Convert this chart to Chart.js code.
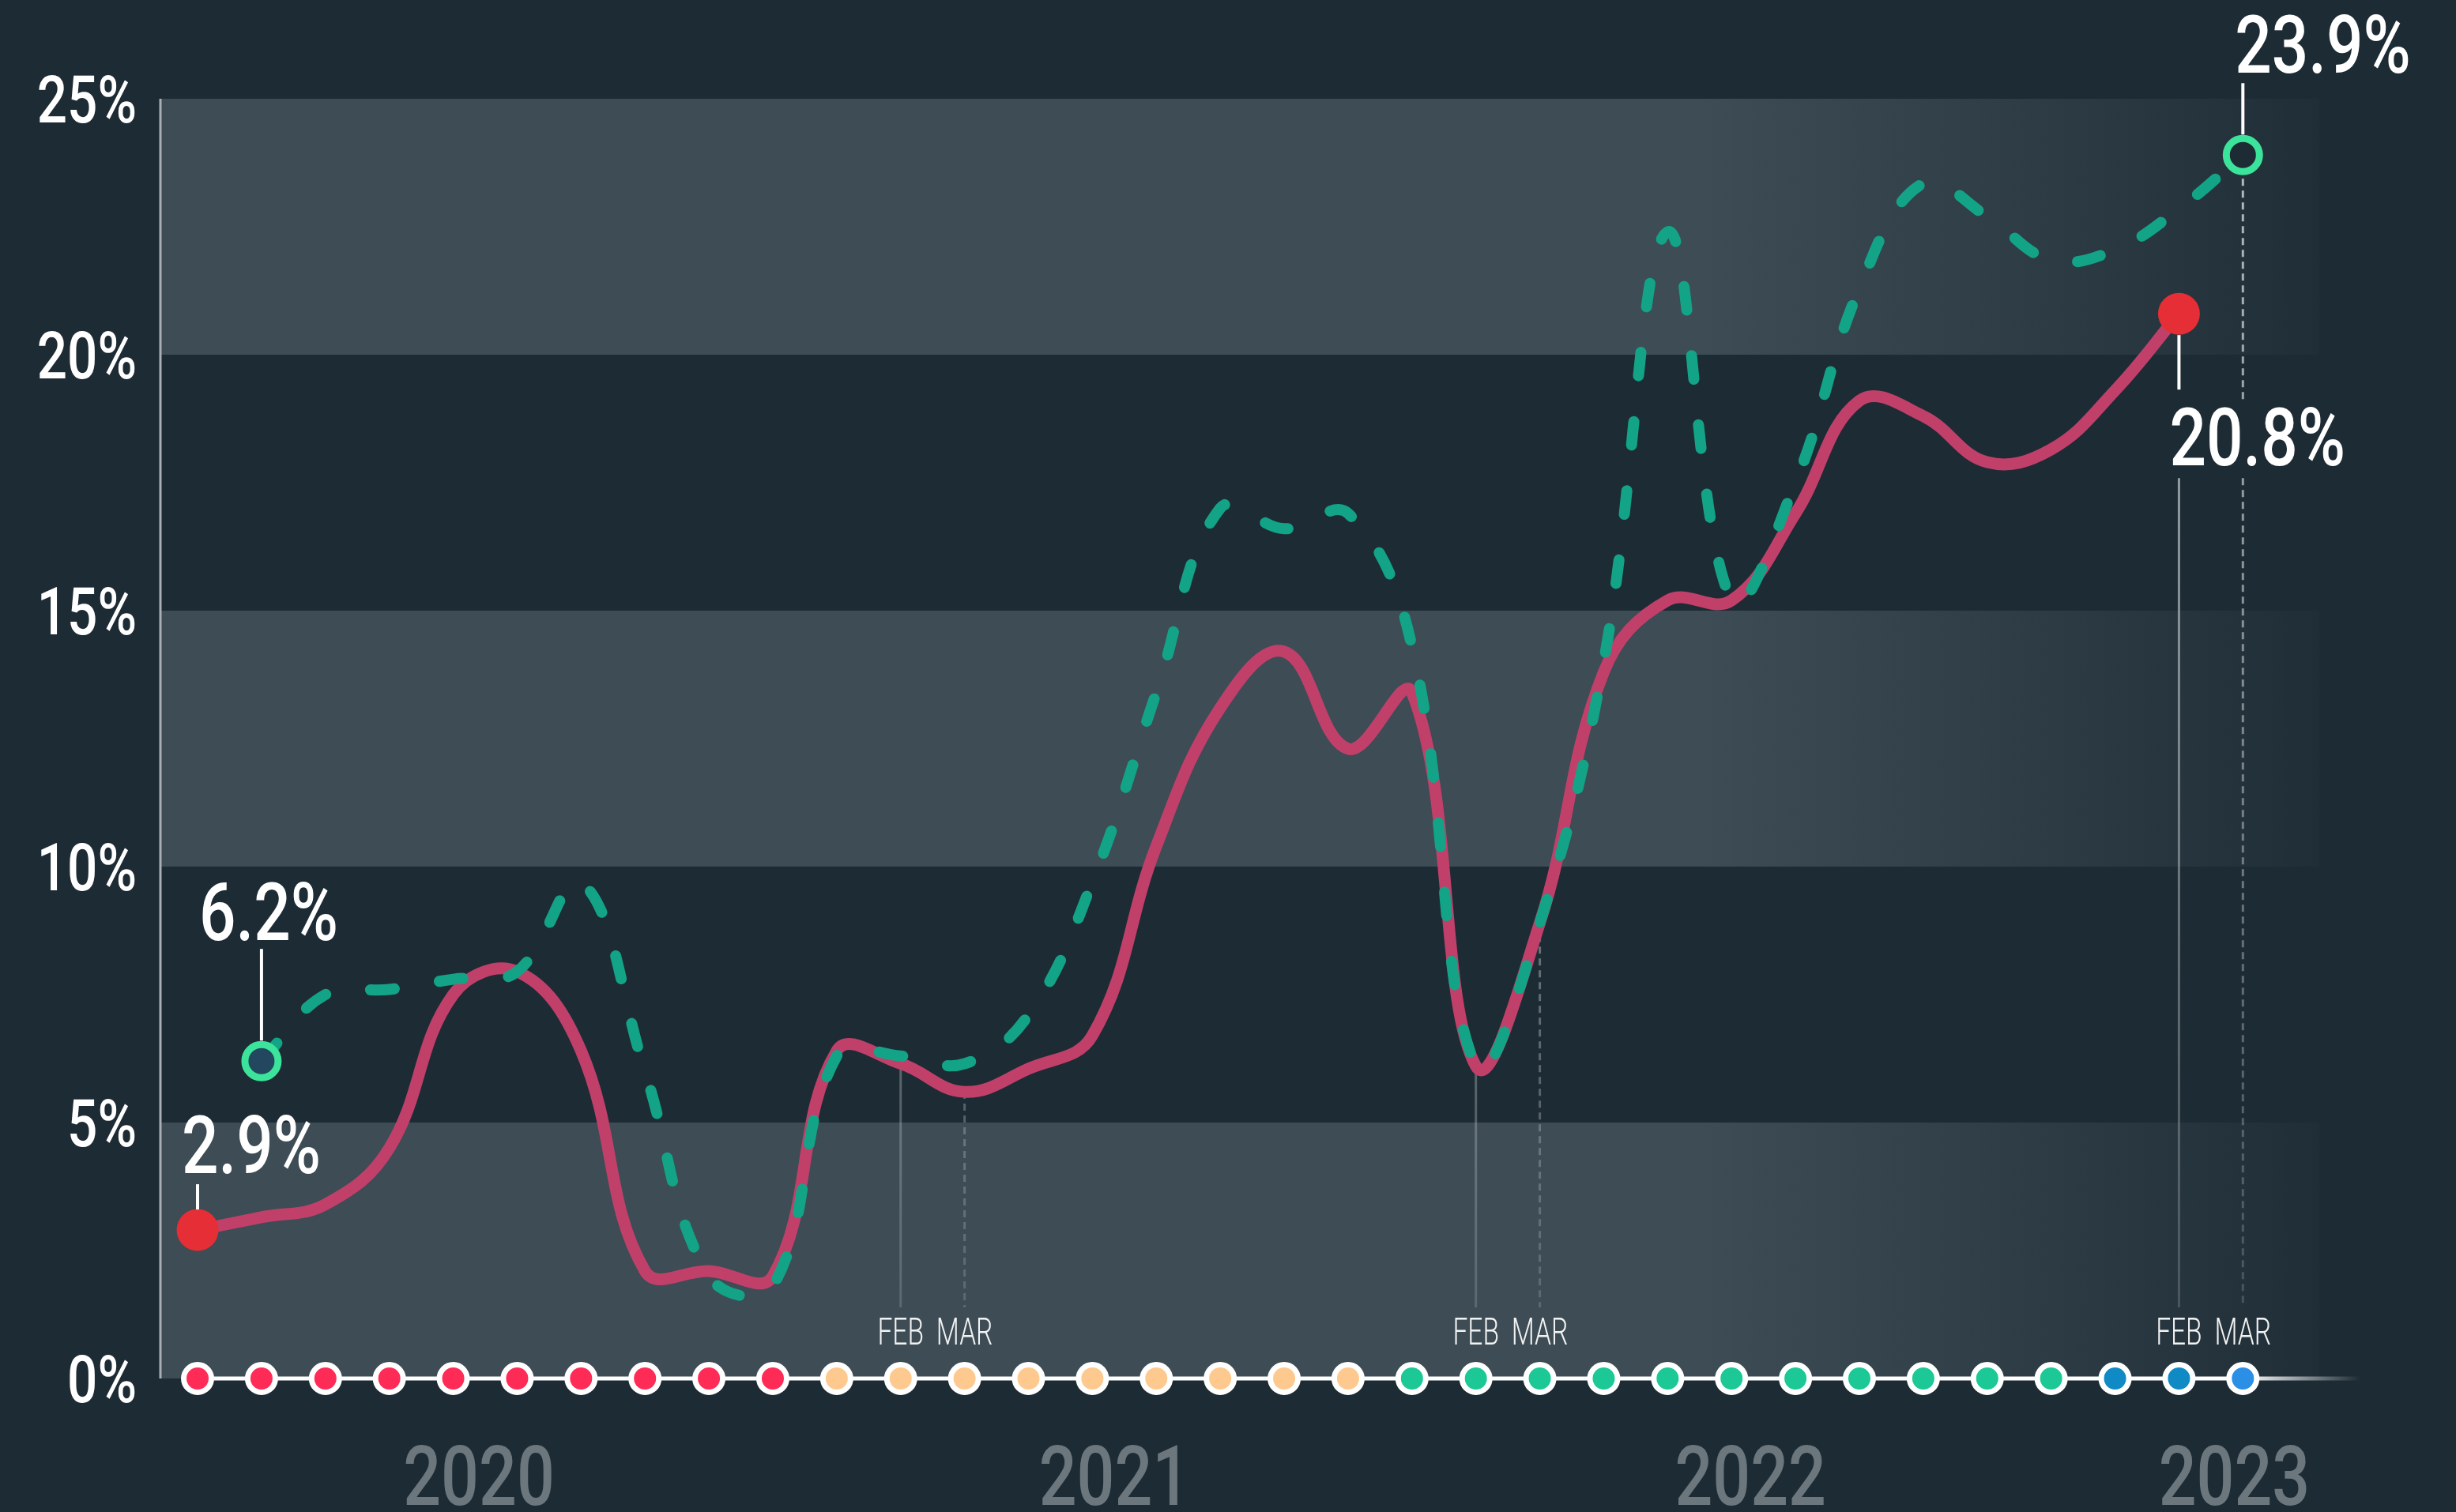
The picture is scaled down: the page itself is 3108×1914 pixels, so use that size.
<!DOCTYPE html>
<html>
<head>
<meta charset="utf-8">
<title>Chart</title>
<script src="https://cdn.jsdelivr.net/npm/chart.js@4.4.1/dist/chart.umd.min.js"></script>
<style>
html,body{margin:0;padding:0;background:#1d2b34;overflow:hidden;}
#wrap{position:relative;width:3108px;height:1914px;}
canvas{display:block;}
</style>
</head>
<body>
<div id="wrap"><canvas id="chart" width="3108" height="1914"></canvas></div>
<script>
// ---------------- DATA ----------------
const months = [
  'MAR','APR','MAY','JUN','JUL','AUG','SEP','OCT','NOV','DEC',
  'JAN','FEB','MAR','APR','MAY','JUN','JUL','AUG','SEP',
  'JAN','FEB','MAR','APR','MAY','JUN','JUL','AUG','SEP','OCT','NOV',
  'JAN','FEB','MAR'
];
const years = ['2020','2021','2022','2023'];
const monthsPerYear = [10, 9, 11, 3];
const yTicks = [0, 5, 10, 15, 20, 25];
const markedMonths = ['FEB', 'MAR'];
const markedYears = ['2021', '2022', '2023'];

// solid series: starts at the first month
const redValues = [
  2.9, 3.15, 3.4, 4.5, 7.5, 7.95, 6.4, 2.1, 2.1, 2.0,
  6.4, 6.15, 5.6, 6.05, 6.7, 10.4, 13.1, 14.2, 12.3,
  13.4, 6.1, 8.9, 13.8, 15.2, 15.2, 16.9, 19.1, 18.8, 17.9, 18.15,
  19.3, 20.8
];
// dashed series: starts at the second month
const greenValues = [
  6.2, 7.5, 7.6, 7.8, 7.95, 9.7, 6.0, 2.0, 1.8,
  6.3, 6.3, 6.15, 7.1, 9.7, 13.4, 17.0, 16.6, 16.9,
  14.3, 6.1, 8.9, 14.0, 22.4, 15.2, 17.5, 21.3, 23.35, 22.7, 21.85,
  22.05, 22.85, 23.9
];
const redStart = 0;
const greenStart = 1;

// ---------------- STYLE ----------------
const BG = '#1d2b34';
const BAND = '61,76,85';
const RED_LINE = '#c0406a';
const RED_DOT = '#e52e35';
const GREEN_LINE = '#13a386';
const GREEN_RING = '#3ce39b';
const yearDotColors = ['#ff2b57', '#fec98f', '#1bc896', '#0f8ac5'];
const currentDotColor = '#2b8fe6';
const yearLabelShift = [-8, 28, 24, 70];
const FONT = 'Roboto,"DejaVu Sans Condensed","Liberation Sans",sans-serif';
const W_LABEL = '500';
const W_MONTH = '300';

// value labels (styling offsets relative to their point)
const valueLabels = [
  {series: 'red',   end: 'first', dx: -20, base: -72,  lead: [-58, -26]},
  {series: 'green', end: 'first', dx: -79, base: -153, lead: [-142, -26]},
  {series: 'red',   end: 'last',  dx: -12, base: 192,  lead: [27, 96]},
  {series: 'green', end: 'last',  dx: -10, base: -104, lead: [-91, -26]}
];

// ---------------- HELPERS ----------------
const yearOfIndex = [];
years.forEach((yr, k) => { for (let j = 0; j < monthsPerYear[k]; j++) yearOfIndex.push(k); });
const dotColors = months.map((m, i) => i === months.length - 1 ? currentDotColor : yearDotColors[yearOfIndex[i]]);

function seriesPts(vals, start) { return vals.map((v, i) => ({x: i + start, y: v})); }
const redPts = seriesPts(redValues, redStart);
const greenPts = seriesPts(greenValues, greenStart);

const SX = {};
function fontStr(size, wt) { return wt + ' ' + size + 'px ' + FONT; }
function calibrate(ctx) {
  [W_LABEL, W_MONTH].forEach(wt => {
    ctx.save();
    ctx.font = fontStr(100, wt);
    const w = ctx.measureText('0000').width;
    ctx.restore();
    SX[wt] = 182.4 / w;
  });
}
function textWidth(ctx, s, size, wt, extra) {
  ctx.save(); ctx.font = fontStr(size, wt);
  const w = ctx.measureText(s).width * SX[wt] * (extra || 1);
  ctx.restore(); return w;
}
function drawText(ctx, s, x, yb, size, color, align, wt, extra) {
  const k = SX[wt] * (extra || 1);
  ctx.save();
  ctx.font = fontStr(size, wt);
  const w = ctx.measureText(s).width * k;
  const x0 = align === 'center' ? x - w / 2 : (align === 'right' ? x - w : x);
  ctx.translate(x0, yb);
  ctx.scale(k, 1);
  ctx.fillStyle = color;
  ctx.textAlign = 'left';
  ctx.textBaseline = 'alphabetic';
  ctx.fillText(s, 0, 0);
  ctx.restore();
}
function labelInfo(chart) {
  const {x, y} = chart.scales;
  return valueLabels.map(L => {
    const pts = L.series === 'red' ? redPts : greenPts;
    const p = L.end === 'first' ? pts[0] : pts[pts.length - 1];
    const px = x.getPixelForValue(p.x), py = y.getPixelForValue(p.y);
    const txt = p.y.toFixed(1) + '%';
    const size = 102;
    const w = textWidth(chart.ctx, txt, size, W_LABEL, 1);
    const tx = px + L.dx, tb = py + L.base;
    return {L, p, px, py, txt, size, tx, tb, box: [tx - 4, tb - 82, tx + w + 4, tb + 16]};
  });
}

// ---------------- PLUGIN ----------------
const deco = {
  id: 'deco',
  beforeDraw(chart) {
    const ctx = chart.ctx;
    ctx.save(); ctx.fillStyle = BG; ctx.fillRect(0, 0, chart.width, chart.height); ctx.restore();
  },
  beforeDatasetsDraw(chart) {
    const ctx = chart.ctx, a = chart.chartArea, {x, y} = chart.scales;
    calibrate(ctx);
    ctx.save();
    // bands
    const bandRight = a.right - 40;
    const g = ctx.createLinearGradient(2150, 0, bandRight + 30, 0);
    g.addColorStop(0, 'rgba(' + BAND + ',1)');
    g.addColorStop(1, 'rgba(' + BAND + ',0.05)');
    for (let i = 0; i < yTicks.length - 1; i += 2) {
      const top = y.getPixelForValue(yTicks[i + 1]), bot = y.getPixelForValue(yTicks[i]);
      ctx.fillStyle = g;
      ctx.fillRect(a.left, top, bandRight - a.left, bot - top);
    }
    // y axis line
    ctx.strokeStyle = '#a9afb2'; ctx.lineWidth = 3;
    ctx.beginPath(); ctx.moveTo(a.left - 1, a.top); ctx.lineTo(a.left - 1, a.bottom); ctx.stroke();
    // tick labels
    yTicks.forEach(v => {
      const py = y.getPixelForValue(v);
      drawText(ctx, v + '%', a.left - 31, py + 30, 84, '#ffffff', 'right', W_LABEL);
    });
    // fading axis extension
    const lastX = x.getPixelForValue(months.length - 1);
    const fg = ctx.createLinearGradient(lastX, 0, a.right + 12, 0);
    fg.addColorStop(0, 'rgba(255,255,255,1)'); fg.addColorStop(1, 'rgba(255,255,255,0)');
    ctx.strokeStyle = fg; ctx.lineWidth = 5;
    ctx.beginPath(); ctx.moveTo(lastX, a.bottom); ctx.lineTo(a.right + 12, a.bottom); ctx.stroke();

    // guide lines for marked months
    const infos = labelInfo(chart);
    const guideBottom = a.bottom - 90;
    const gg = ctx.createLinearGradient(0, 150, 0, guideBottom);
    gg.addColorStop(0, 'rgba(200,205,208,0.9)');
    gg.addColorStop(1, 'rgba(200,205,208,0.22)');
    months.forEach((m, i) => {
      if (!markedMonths.includes(m) || !markedYears.includes(years[yearOfIndex[i]])) return;
      const dashed = m === 'MAR';
      const px = x.getPixelForValue(i);
      const r = redPts.find(p => p.x === i), gp = greenPts.find(p => p.x === i);
      let startY;
      const lastInfo = infos.find(o => o.L.end === 'last' && ((o.L.series === 'red' && r === o.p) || (o.L.series === 'green' && gp === o.p)));
      if (!dashed) {
        startY = y.getPixelForValue(r ? r.y : gp.y);
      } else {
        const vals = [r, gp].filter(Boolean).map(p => p.y);
        startY = y.getPixelForValue(Math.min(...vals));
      }
      if (lastInfo) {
        startY = lastInfo.L.base > 0 ? lastInfo.tb + 16 : lastInfo.py + 30;
      }
      let segs = [[startY, guideBottom]];
      infos.forEach(o => {
        const [bx0, by0, bx1, by1] = o.box;
        if (px < bx0 || px > bx1) return;
        const ns = [];
        segs.forEach(([s0, s1]) => {
          if (by1 <= s0 || by0 >= s1) { ns.push([s0, s1]); return; }
          if (by0 > s0) ns.push([s0, by0]);
          if (by1 < s1) ns.push([by1, s1]);
        });
        segs = ns;
      });
      ctx.strokeStyle = gg; ctx.lineWidth = 3;
      ctx.setLineDash(dashed ? [9, 6] : []);
      segs.forEach(([s0, s1]) => { ctx.beginPath(); ctx.moveTo(px, s0); ctx.lineTo(px, s1); ctx.stroke(); });
      ctx.setLineDash([]);
    });
    ctx.restore();
  },
  afterDatasetsDraw(chart) {
    const ctx = chart.ctx, a = chart.chartArea, {x, y} = chart.scales;
    ctx.save();
    // value labels with leaders
    labelInfo(chart).forEach(o => {
      ctx.strokeStyle = '#ffffff'; ctx.lineWidth = 4;
      ctx.beginPath(); ctx.moveTo(o.px, o.py + o.L.lead[0]); ctx.lineTo(o.px, o.py + o.L.lead[1]); ctx.stroke();
      drawText(ctx, o.txt, o.tx, o.tb, o.size, '#ffffff', 'left', W_LABEL, 1);
    });
    // month marks
    months.forEach((m, i) => {
      if (!markedMonths.includes(m) || !markedYears.includes(years[yearOfIndex[i]])) return;
      drawText(ctx, m, x.getPixelForValue(i), a.bottom - 43, 48, '#f2f2f2', 'center', W_MONTH, 0.85);
    });
    // year labels
    let start = 0;
    years.forEach((yr, k) => {
      const mid = start + (monthsPerYear[k] - 1) / 2;
      drawText(ctx, yr, x.getPixelForValue(mid) + yearLabelShift[k], a.bottom + 160, 105, '#6b777d', 'center', W_LABEL);
      start += monthsPerYear[k];
    });
    ctx.restore();
  }
};

// ---------------- CHART ----------------
const lastRed = redPts.length - 1, lastGreen = greenPts.length - 1;
new Chart(document.getElementById('chart'), {
  type: 'line',
  data: {
    datasets: [
      {
        label: 'dashed', data: greenPts,
        borderColor: GREEN_LINE, borderWidth: 14, borderDash: [30, 58],
        borderCapStyle: 'round', borderJoinStyle: 'round', tension: 0.4, fill: false,
        pointRadius: greenPts.map((p, i) => (i === 0 || i === lastGreen) ? 21 : 0),
        pointBorderWidth: 9, pointBorderColor: GREEN_RING,
        pointBackgroundColor: greenPts.map((p, i) => i === 0 ? '#22475e' : BG),
        clip: false
      },
      {
        label: 'solid', data: redPts,
        borderColor: RED_LINE, borderWidth: 15, borderCapStyle: 'round', borderJoinStyle: 'round',
        tension: 0.4, fill: false,
        pointRadius: redPts.map((p, i) => (i === 0 || i === lastRed) ? 26.5 : 0),
        pointBorderWidth: 0, pointBackgroundColor: RED_DOT,
        clip: false
      },
      {
        label: 'months', data: months.map((m, i) => ({x: i, y: 0})),
        borderColor: '#ffffff', borderWidth: 5, tension: 0,
        pointRadius: 17.5, pointBorderWidth: 7, pointBorderColor: '#ffffff',
        pointBackgroundColor: dotColors, clip: false
      }
    ]
  },
  options: {
    responsive: false, animation: false, events: [],
    layout: {padding: {left: 204, right: 133, top: 125, bottom: 169}},
    plugins: {legend: {display: false}, tooltip: {enabled: false}},
    scales: {
      x: {type: 'linear', min: -0.569, max: 33.69, display: false},
      y: {type: 'linear', min: 0, max: 25, display: false}
    }
  },
  plugins: [deco]
});
</script>
</body>
</html>
